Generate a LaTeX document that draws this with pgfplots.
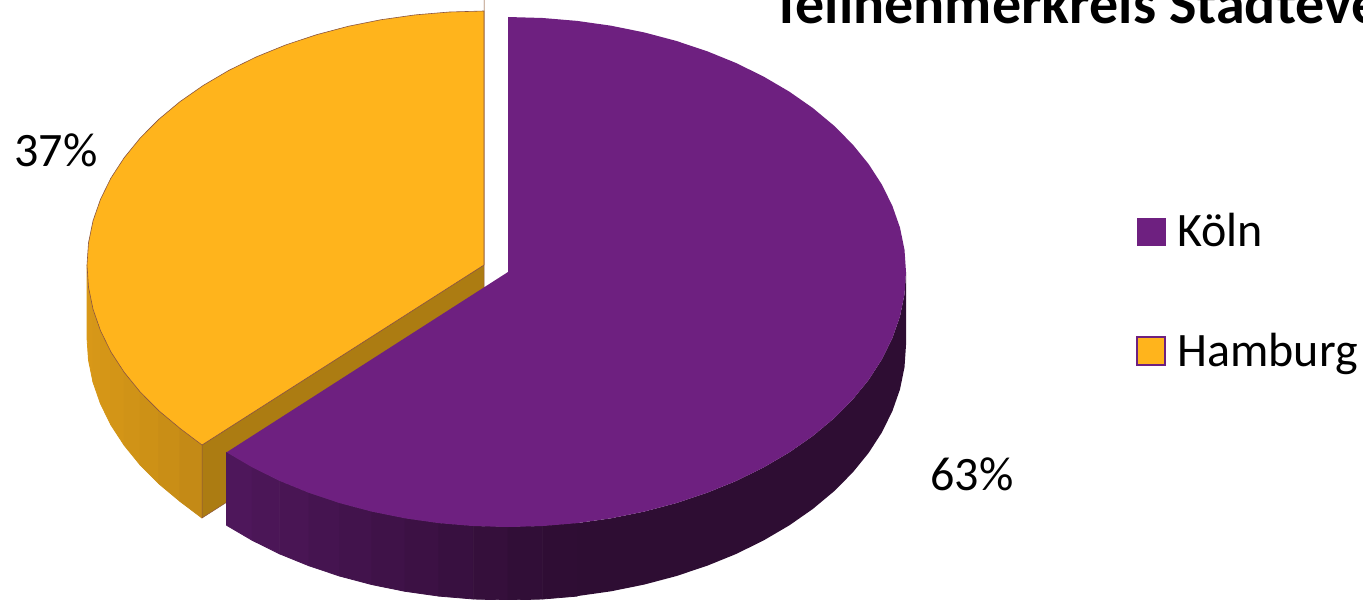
\documentclass[border=0pt]{standalone}
\usepackage{pgfplots}
\pgfplotsset{compat=1.18}
\usepackage{fontspec}
\setmainfont{Carlito}

\definecolor{koeln}{HTML}{6E2080}
\definecolor{koelndark}{HTML}{2E0D33}
\definecolor{hamburg}{HTML}{FFB41C}
\definecolor{hamburgin}{HTML}{AC7C12}
\definecolor{edge}{HTML}{8A5440}

\begin{document}
\begin{tikzpicture}
\path[use as bounding box] (0,0) rectangle (681.5pt,299.5pt);
\clip (0,0) rectangle (681.5pt,299.5pt);
\begin{axis}[
    at={(0,0)}, anchor=south west,
    scale only axis, width=681.5pt, height=299.5pt,
    xmin=0, xmax=1363, ymin=0, ymax=599, y dir=reverse,
    hide axis, clip=false,
    point meta min=0, point meta max=1,
    legend style={at={(axis cs:1136,213)}, anchor=north west, draw=none, fill=none,
        inner sep=0pt, row sep=41.5pt, font=\fontsize{24}{26}\selectfont,
        nodes={inner sep=0pt, anchor=base west}},
    legend cell align=left,
    legend image code/.code={\draw[#1] (0pt,0.5pt) rectangle (13.8pt,14.3pt); \path (19.5pt,0.5pt);},
]
% hamburg outer wall
\addplot[patch, patch type=rectangle, shader=flat, point meta=explicit, forget plot,
    colormap={ham}{color(0)=(hamburg!85!black) color(1)=(hamburg!76!black)}]
coordinates {
(87,265)[0] (88.5,287.1)[0] (88.5,360.1)[0] (87,338)[0]
(88.5,287.1)[0.05] (93,309.1)[0.05] (93,382.1)[0.05] (88.5,360.1)[0.05]
(93,309.1)[0.1] (100.5,330.7)[0.1] (100.5,403.7)[0.1] (93,382.1)[0.1]
(100.5,330.7)[0.16] (110.9,351.9)[0.16] (110.9,424.9)[0.16] (100.5,403.7)[0.16]
(110.9,351.9)[0.25] (124.2,372.3)[0.25] (124.2,445.3)[0.25] (110.9,424.9)[0.25]
(124.2,372.3)[0.38] (140.2,392)[0.38] (140.2,465)[0.38] (124.2,445.3)[0.38]
(140.2,392)[0.52] (158.8,410.7)[0.52] (158.8,483.7)[0.52] (140.2,465)[0.52]
(158.8,410.7)[0.7] (179.9,428.3)[0.7] (179.9,501.3)[0.7] (158.8,483.7)[0.7]
(179.9,428.3)[0.9] (202,445) [0.9] (202,518)[0.9] (179.9,501.3)[0.9]
};
% hamburg inner wall
\addplot[fill=hamburgin, draw=edge, line width=0.25pt, forget plot] coordinates {
(484,265)(202,445)(202,518)(484,338)} \closedcycle;
% hamburg top
\addplot[fill=hamburg, draw=edge, line width=0.3pt, forget plot] coordinates {
(484,265)(484,11)(449.4,12)(415.1,14.9)(381.2,19.7)(348.2,26.3)(316.2,34.8)(285.5,45)
(256.3,56.9)(228.8,70.4)(203.3,85.4)(179.9,101.7)(158.8,119.3)(140.2,138)(124.2,157.7)
(110.9,178.1)(100.5,199.3)(93,220.9)(88.5,242.9)(87,265)(88.5,287.1)(93,309.1)
(100.5,330.7)(110.9,351.9)(124.2,372.3)(140.2,392)(158.8,410.7)(179.9,428.3)(202,445)
(484,265)};
% koeln wall, dark right part
\addplot[fill=koelndark, draw=none, forget plot] coordinates {
(577.1,523.1)(611,518.3)(644.1,511.6)(676.2,503.1)(707,492.8)(736.3,480.9)(763.8,467.3)
(789.4,452.3)(812.9,435.9)(834,418.3)(852.7,399.5)(868.7,379.8)(882,359.2)(892.4,338)
(900,316.3)(904.5,294.2)(906,272)(906,345)(904.5,367.2)(900,389.3)(892.4,411)(882,432.2)
(868.7,452.8)(852.7,472.5)(834,491.3)(812.9,508.9)(789.4,525.3)(763.8,540.3)(736.3,553.9)
(707,565.8)(676.2,576.1)(644.1,584.6)(611,591.3)(577.1,596.1)};
% koeln wall, graded left part
\addplot[patch, patch type=rectangle, shader=flat, point meta=explicit, forget plot,
    colormap={koe}{color(0)=(koeln!72!black) color(1)=(koelndark)}]
coordinates {
(226.6,452.3)[0.03] (252.2,467.3)[0.03] (252.2,540.3)[0.03] (226.6,525.3)[0.03]
(252.2,467.3)[0.12] (279.7,480.9)[0.12] (279.7,553.9)[0.12] (252.2,540.3)[0.12]
(279.7,480.9)[0.2] (309,492.8)[0.2] (309,565.8)[0.2] (279.7,553.9)[0.2]
(309,492.8)[0.3] (339.8,503.1)[0.3] (339.8,576.1)[0.3] (309,565.8)[0.3]
(339.8,503.1)[0.39] (371.9,511.6)[0.39] (371.9,584.6)[0.39] (339.8,576.1)[0.39]
(371.9,511.6)[0.48] (405,518.3)[0.48] (405,591.3)[0.48] (371.9,584.6)[0.48]
(405,518.3)[0.58] (438.9,523.1)[0.58] (438.9,596.1)[0.58] (405,591.3)[0.58]
(438.9,523.1)[0.69] (473.3,526)[0.69] (473.3,599)[0.69] (438.9,596.1)[0.69]
(473.3,526)[0.79] (508,527)[0.79] (508,600)[0.79] (473.3,599)[0.79]
(508,527)[0.89] (542.7,526)[0.89] (542.7,599)[0.89] (508,600)[0.89]
(542.7,526)[0.97] (577.1,523.1)[0.97] (577.1,596.1)[0.97] (542.7,599)[0.97]
};
% koeln top
\addplot[fill=koeln, draw=none, forget plot] coordinates {
(508,272)(508,17)(542.7,18)(577.1,20.9)(611,25.7)(644.1,32.4)(676.2,40.9)(707,51.2)
(736.3,63.1)(763.8,76.7)(789.4,91.7)(812.9,108.1)(834,125.7)(852.7,144.5)(868.7,164.2)
(882,184.8)(892.4,206)(900,227.7)(904.5,249.8)(906,272)(904.5,294.2)(900,316.3)(892.4,338)
(882,359.2)(868.7,379.8)(852.7,399.5)(834,418.3)(812.9,435.9)(789.4,452.3)(763.8,467.3)
(736.3,480.9)(707,492.8)(676.2,503.1)(644.1,511.6)(611,518.3)(577.1,523.1)(542.7,526)
(508,527)(473.3,526)(438.9,523.1)(405,518.3)(371.9,511.6)(339.8,503.1)(309,492.8)
(279.7,480.9)(252.2,467.3)(226.6,452.3)(508,272)};

\addlegendimage{fill=koeln, draw=koeln, line width=0.4pt}
\addlegendentry{Köln}
\addlegendimage{fill=hamburg, draw=koeln, line width=1pt}
\addlegendentry{Hamburg}

\node[anchor=base west, inner sep=0pt, font=\fontsize{24}{26}\selectfont] at (axis cs:14,166) {37\%};
\node[anchor=base west, inner sep=0pt, font=\fontsize{24}{26}\selectfont] at (axis cs:930,490) {63\%};
\node[anchor=base west, inner sep=0pt, font=\fontsize{29}{32}\selectfont\bfseries] at (axis cs:771.6,24) {Teilnehmerkreis Städteve};
\end{axis}
\end{tikzpicture}
\end{document}
